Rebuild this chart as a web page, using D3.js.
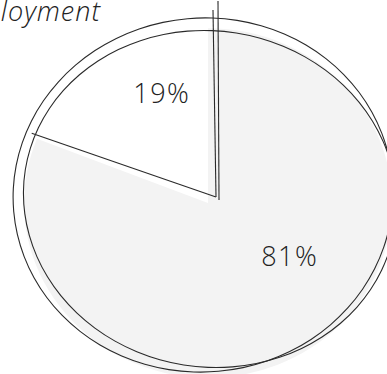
<!DOCTYPE html>
<html>
<head>
<meta charset="utf-8">
<script src="https://cdn.jsdelivr.net/npm/d3@7"></script>
<style>
  html, body { margin: 0; padding: 0; background: #fff; overflow: hidden; }
  svg { display: block; }
  .label { font-family: "Open Sans", sans-serif; font-weight: 300; fill: #222; }
</style>
</head>
<body>
<div id="chart"></div>
<script>
const title = "Employment";
const categories = ["Unemployed", "Employed"];
const values = [19, 81];
const labels = ["19%", "81%"];

const W = 387, H = 374;
const cx = 216, cy = 197, R = 184;

const svg = d3.select("#chart").append("svg").attr("width", W).attr("height", H);

const total = d3.sum(values);
const start = -2 * Math.PI * values[0] / total;
const pie = d3.pie().sort(null).value(d => d).startAngle(start).endAngle(start + 2 * Math.PI);
const arcs = pie(values);
const arc = d3.arc().innerRadius(0).outerRadius(R);

// sketchy fill, slightly off the outline like a hand-drawn fill
const fillG = svg.append("g").attr("transform", `translate(${cx - 8},${cy + 6}) scale(1.0,0.95)`);
fillG.selectAll("path").data(arcs).enter().append("path")
    .attr("d", arc)
    .attr("fill", (d, i) => i === 1 ? "#f3f3f3" : "#fff");

// two loose outlines
const ellipse = (x0, y0, rx, ry, rot) => {
    const a = rot * Math.PI / 180;
    return d3.range(0, 48).map(i => {
        const t = i / 48 * 2 * Math.PI;
        const x = rx * Math.cos(t), y = ry * Math.sin(t);
        return [x0 + x * Math.cos(a) - y * Math.sin(a), y0 + x * Math.sin(a) + y * Math.cos(a)];
    });
};
const outline = d3.line().curve(d3.curveCardinalClosed);
const rings = [
    ellipse(203, 195, 190, 177, -5),
    ellipse(210, 199, 187, 168, 9)
];
svg.selectAll(".ring").data(rings).enter().append("path")
    .attr("class", "ring")
    .attr("d", outline)
    .attr("fill", "none").attr("stroke", "#2a2a2a").attr("stroke-width", 1.1);

// slice boundaries, each stroked twice with a small shift
const ends = [arcs[0].startAngle, arcs[1].startAngle];
const L = 195;
const strokes = [];
ends.forEach((a, i) => {
    strokes.push([[cx, cy], [cx + L * Math.sin(a) - 3, cy - L * Math.cos(a) + 8]]);
    if (i === 1) strokes.push([[cx + 3, cy + 3], [cx + L * Math.sin(a) + 2, cy - L * Math.cos(a) - 1]]);
});
svg.selectAll(".edge").data(strokes).enter().append("path")
    .attr("class", "edge")
    .attr("d", d3.line())
    .attr("fill", "none").attr("stroke", "#2a2a2a").attr("stroke-width", 1.1);

// percentage labels
const labelR = [0.64, 0.52];
const shift = [[12, 3], [20, -10]];
svg.selectAll(".pct").data(arcs).enter().append("text")
    .attr("class", "label pct")
    .attr("x", (d, i) => cx + labelR[i] * R * Math.sin((d.startAngle + d.endAngle) / 2) + shift[i][0])
    .attr("y", (d, i) => cy - labelR[i] * R * Math.cos((d.startAngle + d.endAngle) / 2) + shift[i][1])
    .attr("text-anchor", "middle")
    .attr("font-size", 27)
    .attr("letter-spacing", 1.5)
    .text((d, i) => labels[i]);

svg.append("text").attr("class", "label")
    .attr("x", 101).attr("y", 21)
    .attr("text-anchor", "end")
    .attr("font-size", 27).attr("font-style", "italic")
    .attr("letter-spacing", 1)
    .text(title);
</script>
</body>
</html>
